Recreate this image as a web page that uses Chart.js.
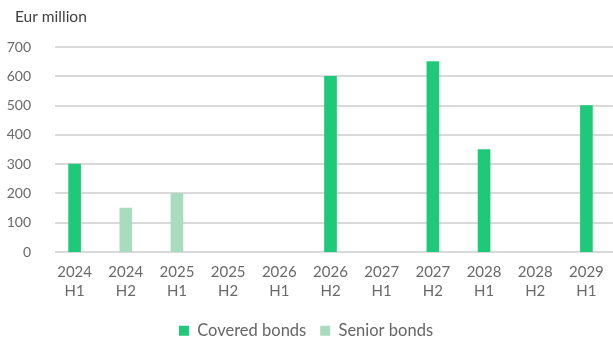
<!DOCTYPE html>
<html><head><meta charset="utf-8">
<script src="https://cdn.jsdelivr.net/npm/chart.js@4/dist/chart.umd.min.js"></script>
<style>html,body{margin:0;padding:0;background:#fff;}#wrap{width:613px;height:340px;}</style>
</head><body><div id="wrap"><canvas id="c" width="613" height="340"></canvas></div>
<script>
const categories = [["2024","H1"],["2024","H2"],["2025","H1"],["2025","H2"],["2026","H1"],["2026","H2"],["2027","H1"],["2027","H2"],["2028","H1"],["2028","H2"],["2029","H1"]];
const coveredBonds = [300, null, null, null, null, 600, null, 650, 350, null, 500];
const seniorBonds = [null, 150, 200, null, null, null, null, null, null, null, null];
const yTicks = [0,100,200,300,400,500,600,700];
const unitLabel = 'Eur million';
const FONT = "Lato, 'DejaVu Sans', sans-serif";
Chart.defaults.font.family = FONT;
Chart.defaults.color = '#666';

const gridPlugin = {
  id: 'gridPlugin',
  beforeDatasetsDraw(chart) {
    const {ctx, scales: {y}} = chart;
    ctx.save();
    ctx.strokeStyle = '#d9d9d9';
    ctx.lineWidth = 2;
    y.ticks.forEach(t => {
      const py = Math.round(y.getPixelForValue(t.value));
      ctx.beginPath();
      ctx.moveTo(55, py);
      ctx.lineTo(chart.width, py);
      ctx.stroke();
    });
    ctx.restore();
  },
  afterDraw(chart) {
    const ctx = chart.ctx;
    ctx.save();
    ctx.fillStyle = '#404040';
    ctx.font = '15.5px ' + FONT;
    ctx.textBaseline = 'middle';
    ctx.textAlign = 'left';
    ctx.fillText(unitLabel, 15, 17);
    ctx.restore();
  }
};

new Chart(document.getElementById('c'), {
  type: 'bar',
  data: {
    labels: categories,
    datasets: [
      {label: 'Covered bonds', data: coveredBonds, backgroundColor: '#1FC97A', barThickness: 12},
      {label: 'Senior bonds', data: seniorBonds, backgroundColor: '#A9DCBE', barThickness: 12}
    ]
  },
  plugins: [gridPlugin],
  options: {
    responsive: false, animation: false,
    layout: {padding: {left: 0, right: 1, top: 47, bottom: -9}},
    plugins: {
      title: {display: false},
      legend: {position: 'bottom', labels: {boxWidth: 10, boxHeight: 10, color: '#666', font: {size: 16.5}, padding: 14}},
      tooltip: {enabled: false}
    },
    scales: {
      x: {stacked: true, grid: {display: false}, border: {display: false},
          afterFit: s => { s.height += 5; },
          ticks: {color: '#6a6a6a', font: {size: 15, lineHeight: 1.25}, maxRotation: 0, padding: 3}},
      y: {stacked: true, min: 0, max: 700, afterBuildTicks: s => { s.ticks = yTicks.map(v => ({value: v})); },
          afterFit: s => { s.width = 49; },
          grid: {display: false}, border: {display: false},
          ticks: {color: '#6a6a6a', font: {size: 14}, padding: 10}}
    }
  }
});
</script></body></html>
